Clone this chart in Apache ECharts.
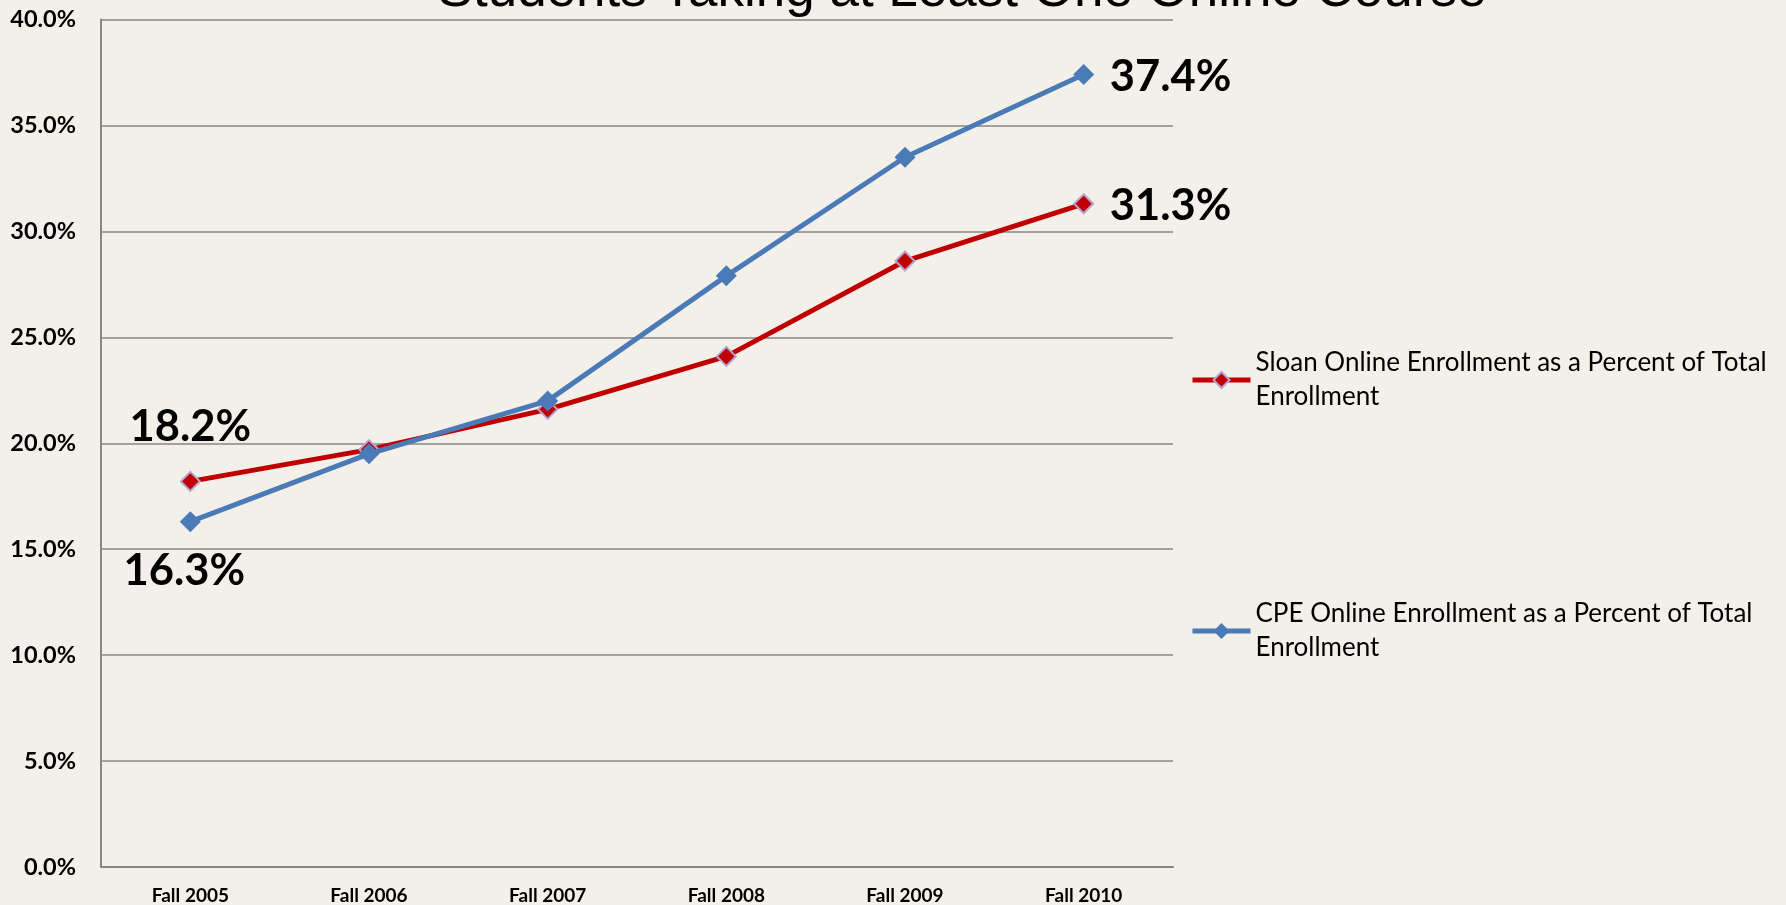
<!DOCTYPE html>
<html>
<head>
<meta charset="utf-8">
<script src="https://cdn.jsdelivr.net/npm/echarts@6/dist/echarts.min.js"></script>
<style>
html,body{margin:0;padding:0;background:#F3F0EA;}
#chart{width:1786px;height:905px;}
</style>
</head>
<body>
<div id="chart"></div>
<script>
const titleText = 'Students Taking at Least One Online Course';
const categories = ['Fall 2005', 'Fall 2006', 'Fall 2007', 'Fall 2008', 'Fall 2009', 'Fall 2010'];
const sloanName = 'Sloan Online Enrollment as a Percent of Total Enrollment';
const cpeName = 'CPE Online Enrollment as a Percent of Total Enrollment';
const sloanValues = [18.2, 19.7, 21.6, 24.1, 28.6, 31.3];
const cpeValues = [16.3, 19.5, 22.0, 27.9, 33.5, 37.4];
const yTicks = { min: 0, max: 40, interval: 5 };

const labelFont = { fontFamily: 'Lato', fontWeight: 'bold', fontSize: 43.5, color: '#000' };

function withEndLabels(values, firstOffset, lastOffset) {
  return values.map((v, i) => {
    if (i === 0 || i === values.length - 1) {
      return {
        value: v,
        label: Object.assign({
          show: true,
          position: 'inside',
          offset: i === 0 ? firstOffset : lastOffset,
          formatter: (p) => p.value.toFixed(1) + '%'
        }, labelFont)
      };
    }
    return v;
  });
}

const legendText = {
  fontFamily: 'Lato', fontSize: 26, color: '#000', lineHeight: 34,
  padding: [34, 0, 0, 0]
};
function wrapName(n) { return n.replace(' of Total ', ' of Total\n'); }

const chart = echarts.init(document.getElementById('chart'), null, { renderer: 'canvas' });
chart.setOption({
  backgroundColor: '#F3F0EA',
  animation: false,
  title: {
    text: titleText,
    left: 957,
    textAlign: 'center',
    top: -40,
    textStyle: { fontFamily: 'Liberation Sans', fontWeight: 'normal', fontSize: 53, color: '#000' }
  },
  legend: [
    {
      data: [sloanName], orient: 'vertical', left: 1185, top: 324,
      itemWidth: 58, itemHeight: 20, formatter: wrapName, textStyle: legendText,
      lineStyle: { width: 5 }
    },
    {
      data: [cpeName], orient: 'vertical', left: 1185, top: 575,
      itemWidth: 58, itemHeight: 20, formatter: wrapName, textStyle: legendText,
      lineStyle: { width: 5 }
    }
  ],
  grid: { left: 101, right: 613, top: 19.5, bottom: 37, containLabel: false },
  xAxis: {
    type: 'category',
    data: categories,
    boundaryGap: true,
    axisLine: { show: true, lineStyle: { color: '#878787', width: 2 } },
    axisTick: { show: false },
    axisLabel: { fontFamily: 'Lato', fontWeight: 'bold', fontSize: 19, color: '#000', margin: 19 }
  },
  yAxis: {
    type: 'value',
    min: yTicks.min, max: yTicks.max, interval: yTicks.interval,
    axisLine: { show: true, lineStyle: { color: '#878787', width: 2 } },
    axisTick: { show: false },
    splitLine: { show: true, lineStyle: { color: '#878787', width: 1.5 } },
    axisLabel: {
      fontFamily: 'Lato', fontWeight: 'bold', fontSize: 23.5, color: '#000', margin: 25,
      formatter: (v) => v.toFixed(1) + '%'
    }
  },
  series: [
    {
      name: sloanName,
      type: 'line',
      data: withEndLabels(sloanValues, [0, -54], [87, 2]),
      symbol: 'diamond',
      symbolSize: 19,
      lineStyle: { color: '#C00000', width: 5 },
      itemStyle: { color: '#C00000', borderColor: '#B5A5CE', borderWidth: 2 },
      z: 2
    },
    {
      name: cpeName,
      type: 'line',
      data: withEndLabels(cpeValues, [-6, 49], [87, 2]),
      symbol: 'diamond',
      symbolSize: 21,
      lineStyle: { color: '#4A7BB6', width: 5 },
      itemStyle: { color: '#4A7BB6', borderColor: '#4A7BB6', borderWidth: 0 },
      z: 3
    }
  ]
});
</script>
</body>
</html>
